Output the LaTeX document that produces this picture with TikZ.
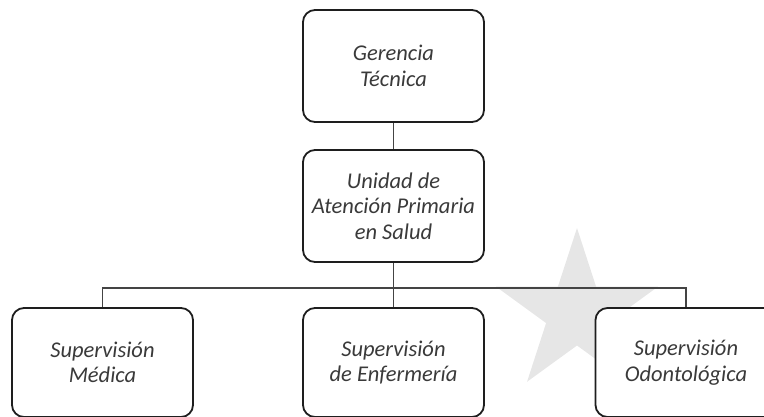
\documentclass[tikz,border=0pt]{standalone}
\usepackage{fontspec}
\setmainfont{Carlito}
\usepackage{tikz}
\usetikzlibrary{positioning}
\definecolor{boxline}{HTML}{1E1E1E}
\definecolor{linkline}{HTML}{444444}
\definecolor{boxtext}{HTML}{3A3A3A}
\definecolor{starfill}{HTML}{E6E6E6}
\tikzset{
  unit/.style={draw=boxline, line width=1.8pt, fill=white, rounded corners=12pt,
    minimum width=181pt, minimum height=112pt, align=center, text=boxtext,
    font=\fontsize{22.5}{25.5}\selectfont\itshape},
  subunit/.style={unit, minimum height=109pt},
  link/.style={draw=linkline, line width=1.3pt}
}
\begin{document}
\begin{tikzpicture}[x=1pt, y=-1pt]
		\useasboundingbox (0,0) rectangle (764,416);
		% star behind the chart
		\fill[starfill] (577,313) +(-90:85)
		  \foreach \i in {1,...,9}{ -- +({-90+36*\i}:{ifthenelse(isodd(\i),32.5,85)}) } -- cycle;
		\node(G)[unit] at (393.5,66){Gerencia\\Técnica};
		\node(U)[unit] at (393.5,206){Unidad de\\Atención Primaria\\en Salud};
		\node(M)[subunit] at (102.5,362.5){Supervisión\\Médica};
		\node(E)[subunit] at (393.5,362.5){Supervisión\\de Enfermería};
		\node(O)[subunit] at (686,362.5){Supervisión\\Odontológica};
		\coordinate(bus) at (0,288);
		\draw[link](G) -- (U);
		\draw[link](U) -- (E);
		\draw[link](M.north) -- (M.north |- bus) -- (O.north |- bus) -- (O.north);
	\end{tikzpicture}
\end{document}
